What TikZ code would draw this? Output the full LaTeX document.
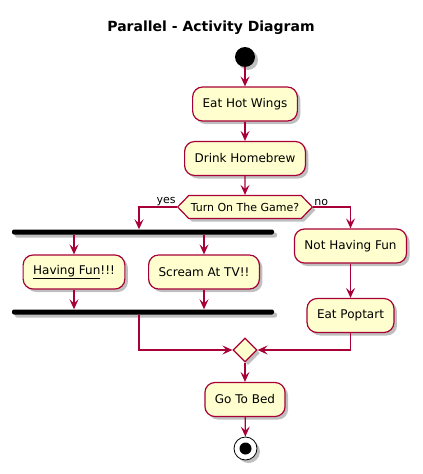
\documentclass[tikz,border=0pt]{standalone}
\usepackage{fontspec}
\setmainfont{DejaVu Sans}
\usetikzlibrary{shapes.geometric, shapes.symbols, shadows, arrows.meta}

\definecolor{umlfill}{HTML}{FEFECE}
\definecolor{umlline}{HTML}{A80036}

\tikzset{
    shade/.style={drop shadow={shadow xshift=3pt, shadow yshift=-3pt, fill=black, opacity=0.25}},
    activity/.style={draw=umlline, fill=umlfill, line width=1.2pt, rounded corners=10pt,
        minimum height=34pt, inner xsep=10pt, font=\fontsize{12}{14}\selectfont, shade},
    decision/.style={draw=umlline, fill=umlfill, line width=1.2pt, shape=signal,
        signal to=west and east, signal pointer angle=92, minimum height=23pt,
        inner xsep=2pt, inner ysep=0pt, font=\fontsize{11}{13}\selectfont, shade},
    merge/.style={draw=umlline, fill=umlfill, line width=1.2pt, diamond,
        minimum width=24pt, minimum height=24pt, inner sep=0pt, shade},
    bar/.style={fill=black, rounded corners=2pt, minimum width=262pt,
        minimum height=5pt, inner sep=0pt, shade},
    flow/.style={draw=umlline, line width=1.2pt,
        -{Stealth[length=10pt, width=9pt, inset=4pt]}},
    guard/.style={font=\fontsize{11}{13}\selectfont, inner sep=1pt}
}

\begin{document}
\begin{tikzpicture}[x=1pt, y=-1pt]
        \useasboundingbox (0,0) rectangle (423,474);

        % Title
        \node[font=\fontsize{14}{16}\selectfont\bfseries] (title) at (211,28) {Parallel - Activity Diagram};

        % Start and the first actions
        \node[circle, fill=black, minimum size=20pt, inner sep=0pt, shade] (start) at (245,57) {};
        \node[activity] (wings) at (245,104) {Eat Hot Wings};
        \node[activity] (brew) at (245,158.5) {Drink Homebrew};
        \node[decision] (game) at (245,207) {Turn On The Game?};

        % Parallel branch
        \node[bar] (fork) at (143,232) {};
        \node[activity] (fun) at (74,272) {\underline{Having Fun}!!!};
        \node[activity] (scream) at (204,272) {Scream At TV!!};
        \node[bar] (join) at (143,312) {};

        % Other branch
        \node[activity] (nofun) at (350.5,246) {Not Having Fun};
        \node[activity] (poptart) at (350.5,315.5) {Eat Poptart};

        % Merge and the end
        \node[merge] (merge) at (245,350) {};
        \node[activity] (bed) at (245,399.5) {Go To Bed};
        \node[circle, draw=black, line width=0.8pt, fill=white, minimum size=23pt, inner sep=0pt, shade] (stop) at (245.5,448.5) {};
        \node[circle, fill=black, minimum size=12pt, inner sep=0pt] (stopdot) at (stop.center) {};

        % Connectors
        \draw[flow] (start) -- (wings);
        \draw[flow] (wings) -- (brew);
        \draw[flow] (brew) -- (game);
        \draw[flow] (game.west) -| (fork.north -| 139,0);
        \draw[flow] (game.east) -| (nofun.north);
        \draw[flow] (fork.south -| fun.north) -- (fun);
        \draw[flow] (fork.south -| scream.north) -- (scream);
        \draw[flow] (fun) -- (join.north -| fun.south);
        \draw[flow] (scream) -- (join.north -| scream.south);
        \draw[flow] (join.south -| 139,0) |- (merge.west);
        \draw[flow] (nofun) -- (poptart);
        \draw[flow] (poptart.south) |- (merge.east);
        \draw[flow] (merge) -- (bed);
        \draw[flow] (bed) -- (stop);

        % Guards
        \node[guard, anchor=south east] (yes) at (game.west) {yes};
        \node[guard, anchor=south west] (no) at (game.east) {no};
    \end{tikzpicture}
\end{document}
